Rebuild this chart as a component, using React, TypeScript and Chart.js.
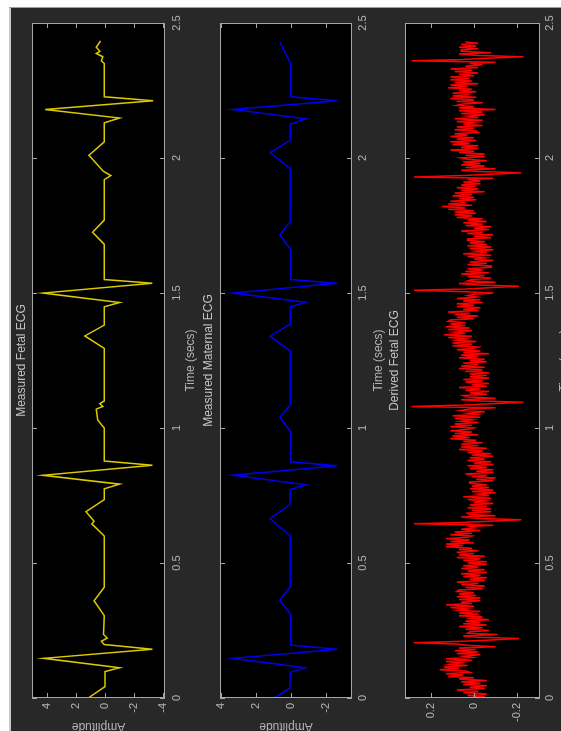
import React, { useEffect, useRef } from "react";
import { Chart, registerables } from "chart.js";

Chart.register(...registerables);

const W = 561;
const H = 731;

// ---------- data ----------
const timeTicks = [0, 0.5, 1, 1.5, 2, 2.5];
const timeTickLabels = ["0", "0.5", "1", "1.5", "2", "2.5"];

const fetalMeasuredTime = [
  0.0, 0.042, 0.098, 0.112, 0.147, 0.181, 0.198, 0.21, 0.222, 0.235, 0.305, 0.36, 0.41, 0.6, 0.645, 0.655, 0.69,
  0.735, 0.775, 0.792, 0.825, 0.862, 0.878, 1.0, 1.03, 1.07, 1.08, 1.09, 1.1, 1.295, 1.341, 1.381, 1.449, 1.465,
  1.5, 1.536, 1.55, 1.68, 1.725, 1.77, 1.92, 1.935, 1.95, 2.01, 2.06, 2.13, 2.148, 2.18, 2.212, 2.227, 2.35, 2.36,
  2.375, 2.387, 2.395, 2.41, 2.434,
];
const fetalMeasuredAmp = [
  1.15, 0.0, 0.0, -1.0, 4.2, -3.25, 0.05, 0.25, -0.15, 0.1, 0.05, 0.75, 0.05, 0.05, 0.9, 0.75, 1.3, 0.05, 0.05, -1.0,
  4.25, -3.25, 0.05, 0.05, 0.5, 0.6, 0.15, 0.35, 0.05, 0.05, 1.38, 0.05, 0.05, -1.0, 4.23, -3.24, 0.05, 0.05, 0.85,
  0.05, 0.05, -0.4, 0.1, 1.1, 0.05, 0.05, -1.0, 4.1, -3.3, 0.05, 0.05, 0.25, 0.15, 0.6, 0.35, 0.6, 0.3,
];

const maternalTime = [
  0.0, 0.037, 0.095, 0.112, 0.147, 0.181, 0.196, 0.31, 0.362, 0.412, 0.6, 0.665, 0.715, 0.772, 0.79, 0.825, 0.86,
  0.875, 0.985, 1.04, 1.085, 1.285, 1.34, 1.385, 1.449, 1.466, 1.5, 1.536, 1.55, 1.66, 1.715, 1.765, 1.96, 2.02,
  2.065, 2.125, 2.145, 2.18, 2.212, 2.227, 2.35, 2.43,
];
const maternalAmp = [
  0.95, 0.05, 0.02, -0.85, 3.3, -2.66, 0.0, 0.0, 0.63, 0.02, 0.02, 1.18, 0.05, 0.02, -0.85, 3.3, -2.66, 0.0, 0.0,
  0.62, 0.03, 0.02, 1.18, 0.04, 0.02, -0.86, 3.3, -2.66, 0.0, 0.0, 0.62, 0.03, 0.02, 1.18, 0.04, 0.02, -0.85, 3.3,
  -2.66, 0.0, 0.0, 0.63,
];

const derivedFetalStep = 0.005; // seconds between samples
const derivedFetalAmp = [
  0.06, -0.05, 0.03, -0.06, 0.05, -0.02, 0.08, -0.05, 0.02, -0.06, 0.05, -0.03, 0.06, -0.06, 0.07, 0.0, 0.12, 0.05, 0.13, 0.02,
  0.04, 0.16, 0.07, 0.14, 0.03, 0.11, 0.06, 0.13, 0.01, 0.13, 0.01, 0.05, -0.03, 0.08, -0.02, 0.09, -0.01, 0.07, -0.1, 0.03,
  0.08, 0.28, 0.05, -0.08, -0.21, -0.02, 0.05, -0.11, 0.03, 0.02, -0.07, 0.04, -0.04, 0.07, -0.06, 0.05, -0.03, 0.04, -0.07, 0.01,
  -0.04, 0.07, -0.02, 0.07, -0.03, 0.07, 0.03, 0.11, 0.0, 0.13, 0.01, 0.06, -0.03, 0.07, -0.03, 0.08, -0.01, 0.07, 0.0, 0.08,
  0.07, -0.04, 0.04, -0.05, 0.06, -0.02, 0.08, -0.05, 0.02, -0.06, 0.05, -0.03, 0.06, -0.06, 0.03, -0.05, 0.06, -0.02, 0.05, -0.06,
  0.03, -0.06, 0.05, -0.03, 0.08, -0.05, 0.07, 0.0, 0.08, -0.02, 0.07, 0.01, 0.13, 0.05, 0.13, 0.0, 0.11, 0.02, 0.13, 0.03,
  0.01, 0.11, 0.01, 0.09, -0.03, 0.06, 0.0, 0.02, -0.09, 0.28, 0.06, -0.07, -0.22, -0.03, 0.06, -0.1, 0.02, 0.03, -0.08, 0.01,
  -0.08, 0.03, -0.06, 0.02, -0.09, 0.0, -0.05, 0.03, -0.08, 0.05, -0.07, -0.02, -0.1, 0.01, -0.09, 0.02, -0.07, 0.01, -0.06, 0.02,
  0.02, -0.09, -0.01, -0.1, 0.01, -0.06, 0.04, -0.09, -0.01, -0.09, 0.02, -0.06, 0.03, -0.09, 0.0, -0.08, 0.03, -0.05, 0.02, -0.09,
  0.01, -0.08, 0.03, -0.04, 0.07, -0.06, 0.06, -0.02, 0.06, -0.04, 0.05, -0.01, 0.11, 0.02, 0.1, -0.02, 0.09, 0.01, 0.11, 0.02,
  0.0, 0.11, 0.01, 0.09, -0.02, 0.06, 0.01, 0.09, -0.03, 0.1, -0.01, 0.03, -0.05, 0.06, 0.02, -0.1, 0.29, 0.05, -0.08, -0.23,
  -0.03, 0.06, -0.1, 0.03, 0.05, -0.06, 0.02, -0.07, 0.04, -0.03, 0.07, -0.06, 0.01, -0.07, 0.04, -0.04, 0.05, -0.07, 0.02, -0.06,
  0.02, -0.07, 0.04, -0.04, 0.07, -0.05, 0.06, -0.02, 0.05, -0.06, 0.02, -0.05, 0.07, -0.02, 0.06, -0.07, 0.05, -0.03, 0.08, 0.0,
  -0.02, 0.1, 0.01, 0.1, -0.01, 0.08, 0.04, 0.12, 0.01, 0.14, 0.04, 0.09, 0.01, 0.12, 0.02, 0.13, 0.04, 0.11, 0.04, 0.12,
  0.11, 0.0, 0.08, -0.02, 0.09, 0.02, 0.12, -0.02, 0.05, -0.03, 0.08, 0.0, 0.08, -0.04, 0.05, -0.03, 0.08, -0.01, 0.03, 0.0,
  -0.09, 0.04, 0.28, 0.04, -0.09, -0.21, -0.02, 0.07, -0.1, 0.03, 0.01, -0.08, 0.03, -0.05, 0.06, -0.07, 0.04, -0.04, 0.03, -0.08,
  -0.08, 0.03, -0.06, 0.02, -0.09, 0.0, -0.05, 0.03, -0.08, 0.05, -0.06, -0.01, -0.09, 0.02, -0.08, 0.03, -0.06, 0.02, -0.05, 0.03,
  0.03, -0.08, 0.0, -0.09, 0.03, -0.04, 0.06, -0.07, 0.0, -0.08, 0.04, -0.04, 0.05, -0.06, 0.03, -0.04, 0.08, 0.01, 0.09, -0.01,
  0.09, 0.0, 0.12, 0.04, 0.15, 0.01, 0.12, 0.04, 0.11, -0.01, 0.07, 0.0, 0.1, 0.01, 0.09, -0.05, 0.06, -0.02, 0.08, -0.01,
  0.06, -0.03, 0.05, -0.03, 0.03, -0.09, 0.28, 0.05, -0.08, -0.22, -0.02, 0.06, -0.1, 0.04, -0.05, 0.06, -0.03, 0.05, -0.06, 0.03,
  0.06, -0.05, 0.04, -0.05, 0.07, 0.0, 0.11, -0.02, 0.06, -0.02, 0.1, 0.02, 0.11, -0.01, 0.08, 0.0, 0.11, 0.03, 0.09, -0.02,
  -0.01, 0.09, 0.0, 0.08, -0.04, 0.05, 0.0, 0.08, -0.04, 0.09, -0.02, 0.03, -0.05, 0.06, -0.04, 0.07, -0.1, 0.07, 0.0, 0.08,
  0.05, -0.04, 0.08, 0.0, 0.11, -0.01, 0.1, 0.02, 0.1, -0.01, 0.07, 0.01, 0.12, 0.03, 0.11, -0.02, 0.09, 0.01, 0.11, 0.02,
  0.11, 0.0, 0.07, -0.02, 0.09, 0.01, 0.11, -0.02, 0.04, -0.04, 0.02, -0.1, 0.29, 0.05, -0.08, -0.23, -0.02, 0.07, -0.08, 0.06,
  0.06, -0.02, 0.07, -0.01, 0.06, -0.02, 0.04,
];

const panel1AmpTicks = [4, 2, 0, -2, -4];
const panel1AmpLabels = ["4", "2", "0", "-2", "-4"];
const panel2AmpTicks = [4, 2, 0, -2];
const panel2AmpLabels = ["4", "2", "0", "-2"];
const panel3AmpTicks = [0.2, 0, -0.2];
const panel3AmpLabels = ["0.2", "0", "-0.2"];

const panelTitles = ["Measured Fetal ECG", "Measured Maternal ECG", "Derived Fetal ECG"];
const timeAxisTitle = "Time (secs)";
const ampAxisTitle = "Amplitude";

// ---------- styling ----------
const FIG_BG = "#282828";
const BOX = "#a6a6a6";
const TICK_TXT = "#b4b4b4";
const TITLE_TXT = "#c4c4c4";
const FONT = '"Liberation Sans", Arial, Helvetica, sans-serif';
const PLOT_TOP = 23;
const PLOT_BOTTOM = 698;

type Panel = {
  left: number;
  right: number;
  ampMin: number;
  ampMax: number;
  color: string;
  lineWidth: number;
  points: { x: number; y: number }[];
  ampTicks: number[];
  ampLabels: string[];
  title: string;
  titleX: number;
  timeTitleX: number;
  tickLabelX: number;
  showAmpTitle: boolean;
};

const panels: Panel[] = [
  {
    left: 32, right: 165, ampMin: -4.11, ampMax: 5.0, color: "#dccb00", lineWidth: 1.5,
    points: fetalMeasuredTime.map((t, i) => ({ x: fetalMeasuredAmp[i], y: t })),
    ampTicks: panel1AmpTicks, ampLabels: panel1AmpLabels, title: panelTitles[0],
    titleX: 22, timeTitleX: 191, tickLabelX: 177, showAmpTitle: true,
  },
  {
    left: 220, right: 352, ampMin: -3.51, ampMax: 4.05, color: "#0000f0", lineWidth: 1.5,
    points: maternalTime.map((t, i) => ({ x: maternalAmp[i], y: t })),
    ampTicks: panel2AmpTicks, ampLabels: panel2AmpLabels, title: panelTitles[1],
    titleX: 209, timeTitleX: 379, tickLabelX: 363, showAmpTitle: true,
  },
  {
    left: 405, right: 540, ampMin: -0.307, ampMax: 0.321, color: "#ff0000", lineWidth: 1.5,
    points: derivedFetalAmp.map((a, i) => ({ x: a, y: i * derivedFetalStep })),
    ampTicks: panel3AmpTicks, ampLabels: panel3AmpLabels, title: panelTitles[2],
    titleX: 395, timeTitleX: 565, tickLabelX: 550, showAmpTitle: false,
  },
];

function decorPlugin(p: Panel) {
  return {
    id: "decor",
    beforeDraw(chart: any) {
      const { ctx, chartArea: a } = chart;
      ctx.save();
      ctx.fillStyle = "#000000";
      ctx.fillRect(a.left, a.top, a.right - a.left, a.bottom - a.top);
      ctx.restore();
    },
    afterDraw(chart: any) {
      const { ctx, chartArea: a, scales } = chart;
      const xs = scales.x;
      const ys = scales.y;
      ctx.save();
      ctx.strokeStyle = BOX;
      ctx.lineWidth = 1;
      ctx.strokeRect(a.left + 0.5, a.top + 0.5, a.right - a.left - 1, a.bottom - a.top - 1);
      ctx.beginPath();
      for (const t of timeTicks) {
        const y = Math.round(ys.getPixelForValue(t)) + 0.5;
        ctx.moveTo(a.right, y);
        ctx.lineTo(a.right - 5, y);
        ctx.moveTo(a.left, y);
        ctx.lineTo(a.left + 5, y);
      }
      for (const v of p.ampTicks) {
        const x = Math.round(xs.getPixelForValue(v)) + 0.5;
        ctx.moveTo(x, a.bottom);
        ctx.lineTo(x, a.bottom - 5);
        ctx.moveTo(x, a.top);
        ctx.lineTo(x, a.top + 5);
      }
      ctx.stroke();

      // time tick labels (rotated)
      ctx.fillStyle = TICK_TXT;
      ctx.font = `11px ${FONT}`;
      timeTicks.forEach((t, i) => {
        const y = ys.getPixelForValue(t);
        ctx.save();
        ctx.translate(p.tickLabelX, y);
        ctx.rotate(-Math.PI / 2);
        ctx.textAlign = "center";
        ctx.textBaseline = "middle";
        ctx.fillText(timeTickLabels[i], 0, 0);
        ctx.restore();
      });
      // amplitude tick labels (rotated)
      p.ampTicks.forEach((v, i) => {
        const x = xs.getPixelForValue(v);
        ctx.save();
        ctx.translate(x, a.bottom + 5);
        ctx.rotate(-Math.PI / 2);
        ctx.textAlign = "right";
        ctx.textBaseline = "middle";
        ctx.fillText(p.ampLabels[i], 0, 0);
        ctx.restore();
      });

      // titles
      ctx.fillStyle = TITLE_TXT;
      ctx.font = `12px ${FONT}`;
      const cy = (a.top + a.bottom) / 2;
      ctx.save();
      ctx.translate(p.titleX, cy);
      ctx.rotate(-Math.PI / 2);
      ctx.textAlign = "center";
      ctx.textBaseline = "middle";
      ctx.fillText(p.title, 0, 0);
      ctx.restore();

      ctx.fillStyle = TICK_TXT;
      ctx.save();
      ctx.translate(p.timeTitleX, cy);
      ctx.rotate(-Math.PI / 2);
      ctx.textAlign = "center";
      ctx.textBaseline = "middle";
      ctx.fillText(timeAxisTitle, 0, 0);
      ctx.restore();

      if (p.showAmpTitle) {
        ctx.save();
        ctx.translate((a.left + a.right) / 2, 726);
        ctx.rotate(Math.PI);
        ctx.textAlign = "center";
        ctx.textBaseline = "middle";
        ctx.fillText(ampAxisTitle, 0, 0);
        ctx.restore();
      }
      ctx.restore();
    },
  };
}

function PanelChart({ p }: { p: Panel }) {
  const ref = useRef<HTMLCanvasElement | null>(null);
  useEffect(() => {
    if (!ref.current) return;
    const chart = new Chart(ref.current, {
      type: "scatter",
      data: {
        datasets: [
          {
            data: p.points,
            showLine: true,
            borderColor: p.color,
            borderWidth: p.lineWidth,
            pointRadius: 0,
            tension: 0,
            fill: false,
          } as any,
        ],
      },
      options: {
        animation: false,
        responsive: false,
        maintainAspectRatio: false,
        devicePixelRatio: 1,
        events: [],
        layout: {
          padding: { left: p.left, right: W - p.right, top: PLOT_TOP, bottom: H - PLOT_BOTTOM },
        },
        scales: {
          x: { type: "linear", display: false, min: p.ampMin, max: p.ampMax, reverse: true },
          y: { type: "linear", display: false, min: 0, max: 2.5 },
        },
        plugins: { legend: { display: false }, tooltip: { enabled: false }, title: { display: false } },
      } as any,
      plugins: [decorPlugin(p) as any],
    });
    return () => chart.destroy();
  }, [p]);
  return (
    <canvas
      ref={ref}
      width={W}
      height={H}
      style={{ position: "absolute", left: 0, top: 0, width: W, height: H }}
    />
  );
}

export default function App() {
  return (
    <div style={{ position: "absolute", left: 0, top: 0, width: W, height: H, overflow: "hidden", background: FIG_BG }}>
      <div style={{ position: "absolute", left: 0, top: 0, width: W, height: 7, background: "#ffffff" }} />
      <div style={{ position: "absolute", left: 0, top: 7, width: W, height: 1, background: "#8aa2b8" }} />
      <div style={{ position: "absolute", left: 0, top: 0, width: 9, height: H, background: "#ffffff" }} />
      <div style={{ position: "absolute", left: 9, top: 8, width: 2, height: H, background: "#c8c8c8" }} />
      {panels.map((p, i) => (
        <PanelChart key={i} p={p} />
      ))}
    </div>
  );
}
